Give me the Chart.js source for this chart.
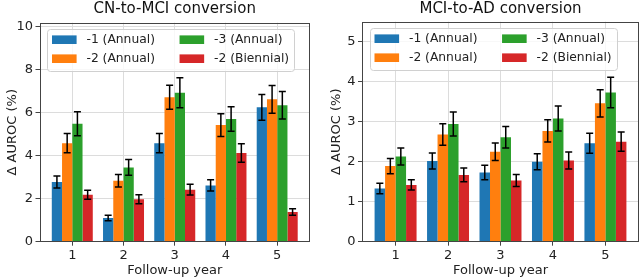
<!DOCTYPE html>
<html lang="en">
<head>
<meta charset="UTF-8">
<title>Δ AUROC by follow-up year</title>
<script src="https://cdn.jsdelivr.net/npm/chart.js@4.4.2/dist/chart.umd.min.js"></script>
<style>
  html, body { margin: 0; padding: 0; background: #fff; }
  .wrap { position: relative; width: 640px; height: 279px; }
  .wrap canvas { position: absolute; top: 0; }
</style>
</head>
<body>
<div class="wrap">
  <canvas id="cnChart" width="320" height="279" style="left:0"></canvas>
  <canvas id="adChart" width="320" height="279" style="left:320px"></canvas>
</div>
<script>
// categories + series
const years = [1, 2, 3, 4, 5];
const seriesLabels = ['-1 (Annual)', '-2 (Annual)', '-3 (Annual)', '-2 (Biennial)'];
const seriesColors = ['#1f77b4', '#ff7f0e', '#2ca02c', '#d62728'];

// CN-to-MCI conversion (delta AUROC %, error bar half-widths)
const cnAnnual1 = [2.78, 1.10, 4.59, 2.62, 6.26];
const cnAnnual2 = [4.59, 2.84, 6.73, 5.43, 6.63];
const cnAnnual3 = [5.49, 3.46, 6.94, 5.72, 6.36];
const cnBiennial2 = [2.19, 1.98, 2.42, 4.13, 1.38];
const cnErrAnnual1 = [0.28, 0.13, 0.45, 0.26, 0.60];
const cnErrAnnual2 = [0.45, 0.29, 0.56, 0.53, 0.65];
const cnErrAnnual3 = [0.56, 0.37, 0.70, 0.57, 0.64];
const cnErrBiennial2 = [0.21, 0.21, 0.25, 0.43, 0.15];

// MCI-to-AD conversion
const adAnnual1 = [1.33, 2.02, 1.73, 2.00, 2.46];
const adAnnual2 = [1.89, 2.68, 2.25, 2.77, 3.46];
const adAnnual3 = [2.13, 2.94, 2.61, 3.08, 3.73];
const adBiennial2 = [1.42, 1.67, 1.53, 2.03, 2.50];
const adErrAnnual1 = [0.13, 0.20, 0.18, 0.20, 0.25];
const adErrAnnual2 = [0.19, 0.27, 0.22, 0.28, 0.34];
const adErrAnnual3 = [0.21, 0.30, 0.27, 0.31, 0.38];
const adErrBiennial2 = [0.13, 0.17, 0.15, 0.21, 0.24];

const cnYTicks = [0, 2, 4, 6, 8, 10];
const adYTicks = [0, 1, 2, 3, 4, 5];

Chart.defaults.font.family = "'DejaVu Sans', sans-serif";
Chart.defaults.color = '#222';

// title above the plot box
const titlePlugin = {
    id: 'boxTitle',
    afterDraw(chart, args, opts) {
        const {ctx, chartArea} = chart;
        ctx.save();
        ctx.font = "15px 'DejaVu Sans'";
        ctx.fillStyle = '#111';
        ctx.textAlign = 'center';
        ctx.textBaseline = 'alphabetic';
        ctx.fillText(opts.text, (chartArea.left + chartArea.right) / 2, 13);
        ctx.restore();
    }
};

// full box around the plot area
const framePlugin = {
    id: 'frame',
    afterDatasetsDraw(chart) {
        const {ctx, chartArea: a} = chart;
        ctx.save();
        ctx.strokeStyle = '#444';
        ctx.lineWidth = 1;
        const l = Math.round(a.left) + 0.5, t = Math.round(a.top) + 0.5;
        const r = Math.round(a.right) - 0.5, b = Math.round(a.bottom) - 0.5;
        ctx.strokeRect(l, t, r - l, b - t);
        ctx.restore();
    }
};

// error bars, placed with the bar elements and the y scale
const errorBarPlugin = {
    id: 'errorBars',
    afterDatasetsDraw(chart) {
        const {ctx} = chart;
        const yScale = chart.scales.y;
        ctx.save();
        ctx.strokeStyle = '#000';
        ctx.lineWidth = 1.5;
        chart.data.datasets.forEach((ds, i) => {
            const meta = chart.getDatasetMeta(i);
            meta.data.forEach((bar, j) => {
                const v = ds.data[j].y, e = ds.errors[j];
                const yTop = yScale.getPixelForValue(v + e);
                const yBot = yScale.getPixelForValue(v - e);
                const x = bar.x;
                ctx.beginPath();
                ctx.moveTo(x, yTop); ctx.lineTo(x, yBot);
                ctx.moveTo(x - 3.5, yTop); ctx.lineTo(x + 3.5, yTop);
                ctx.moveTo(x - 3.5, yBot); ctx.lineTo(x + 3.5, yBot);
                ctx.stroke();
            });
        });
        ctx.restore();
    }
};

// two-column legend inside the top-left of the plot
const legendPlugin = {
    id: 'innerLegend',
    afterDraw(chart) {
        const {ctx, chartArea} = chart;
        const fs = 12.3;
        const sw = 2 * fs, sh = 0.7 * fs, gap = 0.8 * fs, colGap = 2 * fs, pad = 5;
        ctx.save();
        ctx.font = fs + "px 'DejaVu Sans'";
        const ds = chart.data.datasets;
        const cols = [[0, 1], [2, 3]];
        const colW = cols.map(c => Math.max(...c.map(k => ctx.measureText(ds[k].label).width)));
        const x0 = chartArea.left + 7.5, y0 = chartArea.top + 6.5;
        const w = pad + sw + gap + colW[0] + colGap + sw + gap + colW[1] + pad;
        const h = 41.5;
        ctx.fillStyle = 'rgba(255,255,255,0.8)';
        ctx.strokeStyle = '#d0d0d0';
        ctx.lineWidth = 1;
        ctx.beginPath();
        ctx.roundRect(Math.round(x0) + 0.5, Math.round(y0) + 0.5, Math.round(w), Math.round(h), 3);
        ctx.fill();
        ctx.stroke();
        ctx.textBaseline = 'middle';
        ctx.textAlign = 'left';
        let cx = x0 + pad;
        cols.forEach((c, ci) => {
            c.forEach((k, ri) => {
                const cy = y0 + 10.5 + ri * 19;
                ctx.fillStyle = ds[k].backgroundColor;
                ctx.fillRect(cx, cy - sh / 2, sw, sh);
                ctx.fillStyle = '#222';
                ctx.fillText(ds[k].label, cx + sw + gap, cy + 0.5);
            });
            cx += sw + gap + colW[ci] + colGap;
        });
        ctx.restore();
    }
};

function buildChart(id, title, values, errors, yTicks, yMax, area, yTitlePad) {
    return new Chart(document.getElementById(id), {
        type: 'bar',
        data: {
            datasets: values.map((vals, i) => ({
                label: seriesLabels[i],
                data: years.map((x, j) => ({x: x, y: vals[j]})),
                errors: errors[i],
                backgroundColor: seriesColors[i],
                borderWidth: 0,
                barPercentage: 1.0,
                categoryPercentage: 0.8
            }))
        },
        options: {
            responsive: false,
            animation: false,
            devicePixelRatio: 1,
            layout: {padding: {top: area.top, right: 320 - area.right, left: 0, bottom: 0}},
            plugins: {
                legend: {display: false},
                tooltip: {enabled: false},
                boxTitle: {text: title}
            },
            scales: {
                x: {
                    type: 'linear',
                    min: 0.36,
                    max: 5.64,
                    offset: false,
                    afterBuildTicks: s => { s.ticks = years.map(v => ({value: v})); },
                    afterFit: s => { s.height = 279 - area.bottom; },
                    grid: {offset: false, color: '#dcdcdc', tickColor: '#444', tickLength: 4},
                    border: {display: false},
                    ticks: {font: {size: 13}, padding: 2, color: '#222'},
                    title: {display: true, text: 'Follow-up year', font: {size: 13}, padding: {top: 0, bottom: 0.5}, color: '#222'}
                },
                y: {
                    min: 0,
                    max: yMax,
                    afterBuildTicks: s => { s.ticks = yTicks.map(v => ({value: v})); },
                    afterFit: s => { s.width = area.left; },
                    grid: {color: '#dcdcdc', tickColor: '#444', tickLength: 4},
                    border: {display: false},
                    ticks: {font: {size: 13}, padding: 2.5, color: '#222'},
                    title: {display: true, text: 'Δ AUROC (%)', font: {size: 13}, padding: {top: yTitlePad, bottom: 0}, color: '#222'}
                }
            }
        },
        plugins: [titlePlugin, framePlugin, errorBarPlugin, legendPlugin]
    });
}

buildChart('cnChart', 'CN-to-MCI conversion',
    [cnAnnual1, cnAnnual2, cnAnnual3, cnBiennial2],
    [cnErrAnnual1, cnErrAnnual2, cnErrAnnual3, cnErrBiennial2],
    cnYTicks, 10.2, {left: 39.5, right: 310, top: 22.7, bottom: 241.7}, 5);

buildChart('adChart', 'MCI-to-AD conversion',
    [adAnnual1, adAnnual2, adAnnual3, adBiennial2],
    [adErrAnnual1, adErrAnnual2, adErrAnnual3, adErrBiennial2],
    adYTicks, 5.5, {left: 42, right: 319, top: 21.7, bottom: 241.7}, 9);
</script>
</body>
</html>
